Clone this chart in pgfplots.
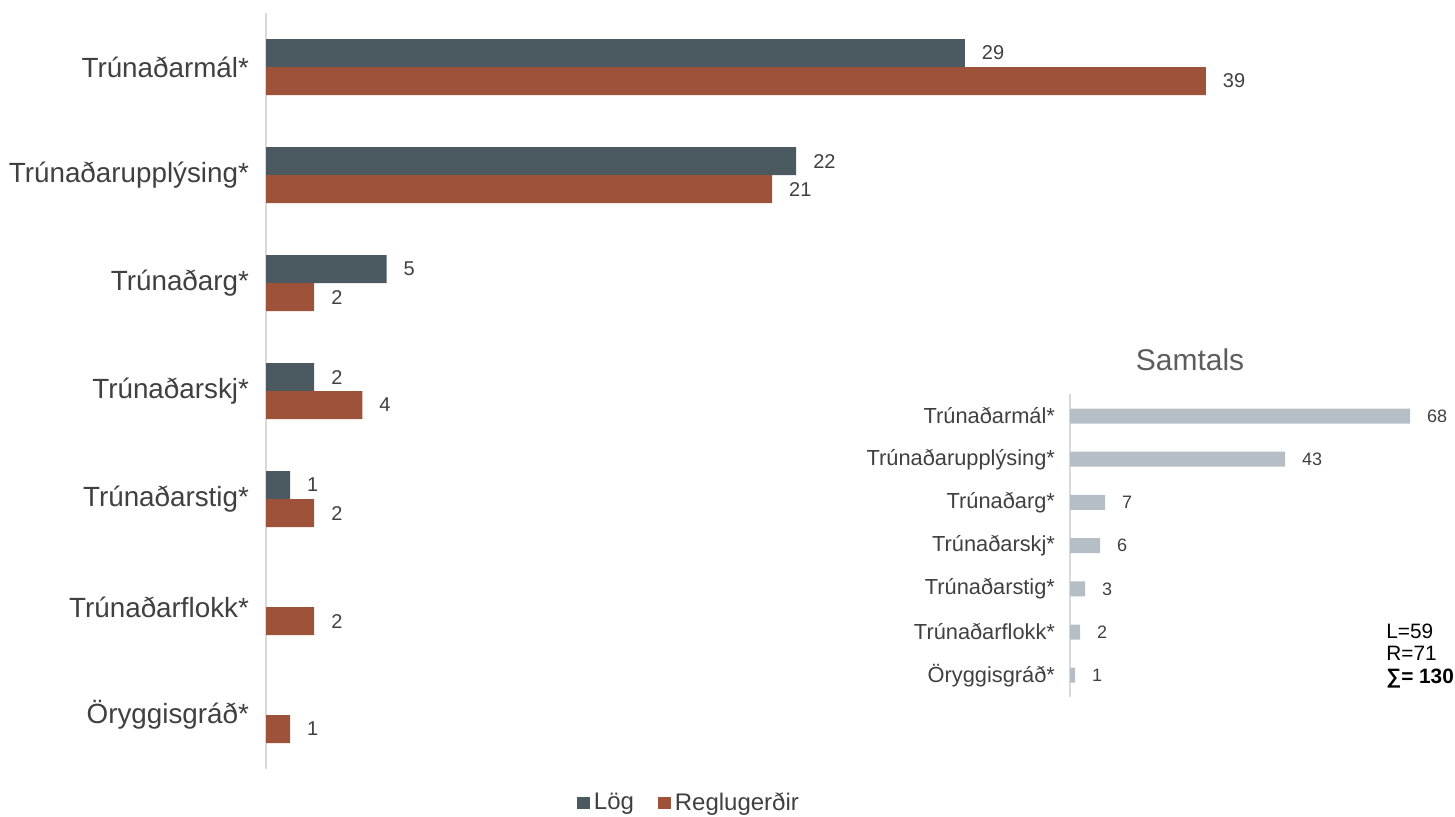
\documentclass[border=0pt]{standalone}
\usepackage{pgfplots}
\pgfplotsset{compat=1.18}
\usepackage{fontspec}
\setmainfont{Liberation Sans}
\definecolor{log}{HTML}{4B5961}
\definecolor{regl}{HTML}{9E5239}
\definecolor{tot}{HTML}{B4BEC4}
\definecolor{txt}{HTML}{404040}
\definecolor{axl}{HTML}{D9D9D9}

\begin{document}
\begin{tikzpicture}
\useasboundingbox (0,0) rectangle (727.5pt,-408pt);

% main chart
\begin{axis}[
    at={(133pt,-33.5pt)}, anchor=origin,
    x=12.05pt, y=54pt, y dir=reverse,
    xmin=0, xmax=45, ymin=-0.5, ymax=6.5,
    clip=false,
    axis x line=none, axis y line=left,
    y axis line style={draw=axl, line width=1pt, -},
    ytick={0,...,6},
    yticklabels={Trúnaðarmál*, Trúnaðarupplýsing*, Trúnaðarg*, Trúnaðarskj*, Trúnaðarstig*, Trúnaðarflokk*, Öryggisgráð*},
    yticklabel style={font=\fontsize{13.9}{16}\selectfont, text=txt, xshift=-5pt},
    major tick length=0pt,
    xbar, bar width=14pt,
    nodes near coords,
    nodes near coords style={font=\fontsize{10}{12}\selectfont, text=txt, anchor=west, xshift=5pt},
    /pgf/number format/assume math mode=true,
    legend image code/.code={\fill[#1] (0pt,-3.2pt) rectangle (6.4pt,3.2pt);},
    legend style={at={(0.391,-0.045)}, anchor=center, draw=none, legend columns=2,
        font=\fontsize{12}{14}\selectfont, text=txt,
        /tikz/every even column/.append style={column sep=10pt}},
]
\addplot[fill=log, draw=none, bar shift=7pt] coordinates {
    (29,0) (22,1) (5,2) (2,3) (1,4)
};
\addplot[fill=regl, draw=none, bar shift=-7pt] coordinates {
    (39,0) (21,1) (2,2) (4,3) (2,4) (2,5) (1,6)
};
\legend{Lög, Reglugerðir}
\end{axis}

% inset: totals
\begin{axis}[
    at={(535pt,-208pt)}, anchor=origin,
    x=2.5pt, y=21.6pt, y dir=reverse,
    xmin=0, xmax=80, ymin=-0.5, ymax=6.5,
    clip=false,
    axis x line=none, axis y line=left,
    y axis line style={draw=axl, line width=1pt, -},
    ytick={0,...,6},
    yticklabels={Trúnaðarmál*, Trúnaðarupplýsing*, Trúnaðarg*, Trúnaðarskj*, Trúnaðarstig*, Trúnaðarflokk*, Öryggisgráð*},
    yticklabel style={font=\fontsize{10.9}{12}\selectfont, text=txt, xshift=-4pt},
    major tick length=0pt,
    xbar, bar width=7.5pt,
    nodes near coords,
    nodes near coords style={font=\fontsize{9}{11}\selectfont, text=txt, anchor=west, xshift=5pt},
    /pgf/number format/assume math mode=true,
]
\addplot[fill=tot, draw=none, bar shift=0pt] coordinates {
    (68,0) (43,1) (7,2) (6,3) (3,4) (2,5) (1,6)
};
\end{axis}

\node[font=\fontsize{15}{18}\selectfont, text=txt!85] at (595pt,-180pt) {Samtals};
\node[anchor=base west, inner sep=0, font=\fontsize{10.4}{12}\selectfont] at (693pt,-319.25pt) {L=59};
\node[anchor=base west, inner sep=0, font=\fontsize{10.4}{12}\selectfont] at (693pt,-330.25pt) {R=71};
\node[anchor=base west, inner sep=0, font=\fontsize{10.4}{12}\selectfont] at (693pt,-341.75pt) {\textbf{∑= 130}};
\end{tikzpicture}
\end{document}
